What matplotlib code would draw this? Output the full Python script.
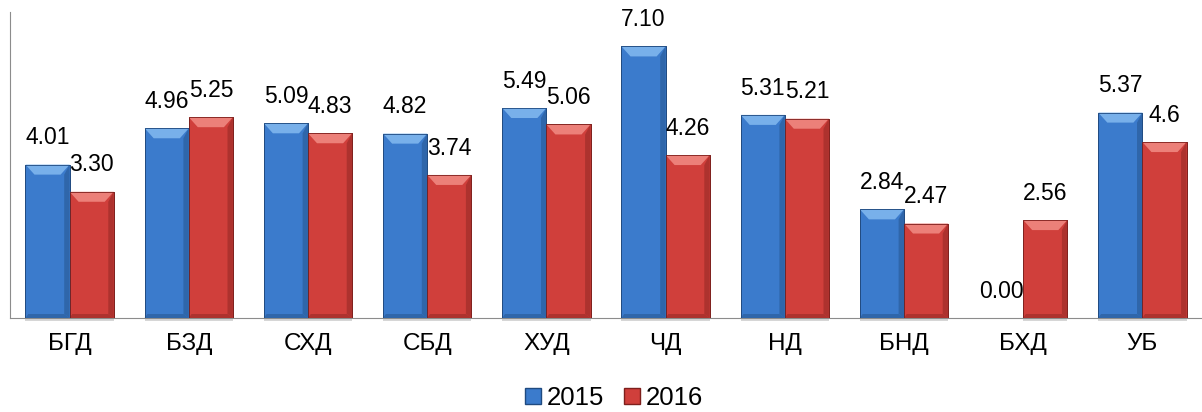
import numpy as np
import matplotlib.pyplot as plt
from matplotlib.patches import Polygon, Patch

plt.rcParams['font.family'] = ['Liberation Sans', 'DejaVu Sans']

categories = ['БГД', 'БЗД', 'СХД', 'СБД', 'ХУД', 'ЧД', 'НД', 'БНД', 'БХД', 'УБ']
v2015 = [4.01, 4.96, 5.09, 4.82, 5.49, 7.10, 5.31, 2.84, 0.00, 5.37]
v2016 = [3.30, 5.25, 4.83, 3.74, 5.06, 4.26, 5.21, 2.47, 2.56, 4.6]
labels2015 = ['4.01', '4.96', '5.09', '4.82', '5.49', '7.10', '5.31', '2.84', '0.00', '5.37']
labels2016 = ['3.30', '5.25', '4.83', '3.74', '5.06', '4.26', '5.21', '2.47', '2.56', '4.6']

# main, light top, dark side, dark edge
blue = ('#3b7bcc', '#78b0ea', '#2f66aa', '#1f4a80')
red = ('#d03f3b', '#ec8079', '#ad322e', '#7e1f1c')

fig = plt.figure(figsize=(12.02, 4.12), dpi=100)
ax = fig.add_axes([10 / 1202, 94 / 412, 1192 / 1202, 306 / 412])

x = np.arange(len(categories))
w = 0.37
ax.set_xlim(-0.5, len(categories) - 0.5)
ax.set_ylim(0, 8)

b1 = ax.bar(x - w / 2, v2015, w, color=blue[0], edgecolor=blue[3], linewidth=0.6, zorder=2)
b2 = ax.bar(x + w / 2, v2016, w, color=red[0], edgecolor=red[3], linewidth=0.6, zorder=2)

# pixel -> data sizes for the bevel
px_x = 1.0 / (1192 / len(categories))
px_y = 8.0 / 306


def bevel(bars, cols):
    for b in bars:
        x0, w_, h = b.get_x(), b.get_width(), b.get_height()
        if h <= 0:
            continue
        dx, dy = 9 * px_x, 10 * px_y
        x1 = x0 + w_
        # top light face
        ax.add_patch(Polygon([(x0, h), (x1, h), (x1 - dx, h - dy), (x0 + dx, h - dy)],
                             closed=True, facecolor=cols[1], edgecolor='none', zorder=3))
        # right dark face
        ax.add_patch(Polygon([(x1, h), (x1, 0), (x1 - dx * 0.6, dy * 0.4), (x1 - dx * 0.6, h - dy)],
                             closed=True, facecolor=cols[2], edgecolor='none', zorder=3))
        # bottom dark face
        ax.add_patch(Polygon([(x0, 0), (x1, 0), (x1 - dx * 0.6, dy * 0.4), (x0 + dx * 0.3, dy * 0.4)],
                             closed=True, facecolor=cols[2], edgecolor='none', zorder=3))
        # outline
        ax.add_patch(Polygon([(x0, 0), (x0, h), (x1, h), (x1, 0)], closed=True,
                             facecolor='none', edgecolor=cols[3], linewidth=0.6, zorder=4))
        # faint shadow under bar
        ax.add_patch(Polygon([(x0, 0), (x1, 0), (x1, -3 * px_y), (x0, -3 * px_y)], closed=True,
                             facecolor='#bbbbbb', edgecolor='none', alpha=0.6, zorder=1,
                             clip_on=False))


bevel(b1, blue)
bevel(b2, red)

for b, t in zip(b1, labels2015):
    ax.annotate(t, (b.get_x() + b.get_width() / 2, b.get_height()), xytext=(0, 11),
                textcoords='offset points', ha='center', va='bottom', fontsize=16.5, zorder=5)
for b, t in zip(b2, labels2016):
    ax.annotate(t, (b.get_x() + b.get_width() / 2, b.get_height()), xytext=(0, 11),
                textcoords='offset points', ha='center', va='bottom', fontsize=16.5, zorder=5)

ax.set_xticks(x)
ax.set_xticklabels(categories, fontsize=17.5)
ax.tick_params(axis='x', length=0, pad=11)
ax.set_yticks([])
for s in ['top', 'right']:
    ax.spines[s].set_visible(False)
ax.spines['left'].set_color('#8c8c8c')
ax.spines['bottom'].set_color('#8c8c8c')

handles = [Patch(facecolor=blue[0], edgecolor=blue[3]), Patch(facecolor=red[0], edgecolor=red[3])]
fig.legend(handles, ['2015', '2016'], loc='center', bbox_to_anchor=(614 / 1202, 0.034), ncol=2,
           frameon=False, fontsize=18.5, handlelength=0.62, handleheight=0.62,
           handletextpad=0.2, columnspacing=0.8)

fig.savefig('out.png', dpi=100)
